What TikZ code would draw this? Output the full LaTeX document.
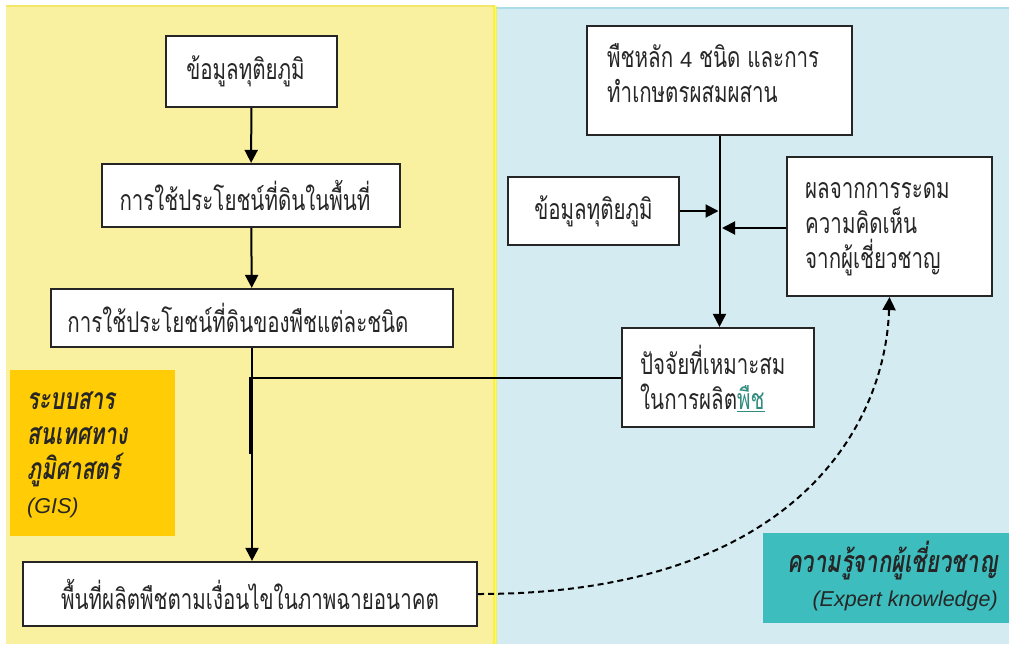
\documentclass[tikz,border=0pt]{standalone}
\usepackage{fontspec}
\usetikzlibrary{arrows.meta,calc}
\newfontfamily\thai[Script=Thai, FakeStretch=0.72]{Loma}
\newfontfamily\latin{Liberation Sans}
\definecolor{yellowbg}{HTML}{F9F0A0}
\definecolor{yellowln}{HTML}{F5E76A}
\definecolor{bluebg}{HTML}{D4ECF1}
\definecolor{blueln}{HTML}{A9DDE8}
\definecolor{gold}{HTML}{FFCC05}
\definecolor{tealbox}{HTML}{3EBDBE}
\definecolor{linkc}{HTML}{2F8C7E}
\tikzset{
  box/.style={draw=black!85, line width=2.2pt, fill=white, inner sep=0pt, minimum width=#1},
  txt/.style={font=\thai\fontsize{28.5}{35}\selectfont, text=black!85},
  arr/.style={line width=2pt, -{Triangle[length=13pt,width=13pt]}},
  ln/.style={line width=2pt},
}
\begin{document}
\begin{tikzpicture}[x=1pt,y=-1pt]
\useasboundingbox (0,0) rectangle (1009,646);
% panels
\fill[yellowbg] (6,6) rectangle (495,644);
\draw[yellowln, line width=1.5pt] (6,6) -- (495,6);
\fill[bluebg] (496,8) rectangle (1009,644);
\draw[blueln, line width=1.5pt] (496,8) -- (1009,8);
\fill[yellow, opacity=0.6] (493,6) rectangle (497,644);
% label boxes
\node[fill=gold, minimum width=165pt, minimum height=166pt, inner sep=0pt] (gis) at (92.5,453) {};
\node[anchor=north west, align=left, inner sep=0pt, text=black!85, font=\thai\bfseries\itshape\fontsize{30}{35}\selectfont] (gist) at (27,392) {ระบบสาร\\สนเทศทาง\\ภูมิศาสตร์\\[-1pt]{\latin\mdseries\itshape\fontsize{21.5}{20}\selectfont(GIS)}};
\node[fill=tealbox, minimum width=246pt, minimum height=90pt, inner sep=0pt] (exp) at (886,578) {};
\node[anchor=north east, align=right, inner sep=0pt, text=black!85, font=\thai\bfseries\itshape\fontsize{30.5}{34}\selectfont] (expt) at (998,541) {ความรู้จากผู้เชี่ยวชาญ\\{\latin\mdseries\itshape\fontsize{21.5}{20}\selectfont(Expert knowledge)}};
% left column
\node[box=171pt, minimum height=71pt, txt] (b1) at (251.5,71.5) {ข้อมูลทุติยภูมิ\hspace*{12pt}};
\node[box=298pt, minimum height=63pt, txt] (b2) at (251,195.5) {การใช้ประโยชน์ที่ดินในพื้นที่\hspace*{12pt}};
\node[box=402pt, minimum height=58pt, txt] (b3) at (252,318) {การใช้ประโยชน์ที่ดินของพืชแต่ละชนิด\hspace*{28pt}};
\node[box=454pt, minimum height=64pt, txt] (b6) at (250,594) {พื้นที่ผลิตพืชตามเงื่อนไขในภาพฉายอนาคต};
% right column
\node[box=265pt, minimum height=109pt] (r1) at (719.5,80.5) {};
\node[anchor=north west, align=left, inner sep=0pt, txt] (r1t) at (607,43) {พืชหลัก {\latin\fontsize{22}{35}\selectfont 4} ชนิด และการ\\ทำเกษตรผสมผสาน};
\node[box=171pt, minimum height=68pt, txt] (r2) at (593.5,211) {ข้อมูลทุติยภูมิ};
\node[box=205pt, minimum height=139pt] (r3) at (889.5,226.5) {};
\node[anchor=north west, align=left, inner sep=0pt, txt] (r3t) at (805,182) {ผลจากการระดม\\ความคิดเห็น\\จากผู้เชี่ยวชาญ};
\node[box=192pt, minimum height=99pt] (r5) at (718,377.5) {};
\node[anchor=north west, align=left, inner sep=0pt, txt] (r5t) at (640,345) {ปัจจัยที่เหมาะสม\\ในการผลิต{\color{linkc}\underline{พืช}}};
% connectors
\draw[arr] (b1) -- (b2);
\draw[arr] (b2) -- (b3);
\draw[arr] (b3.south) -- (b6.north -| b3.south);
\coordinate (k1) at (250,379);
\coordinate (k2) at (250,454);
\draw[ln] (r5.west) -- (r5.west -| k1) -- (k2);
\draw[line width=3pt] (k1) -- (k2);
\coordinate (rv) at (r1.south);
\draw[arr] (rv) -- (r5.north -| rv);
\draw[arr] (r2.east) -- ($(r2.east -| rv)+(-1,0)$);
\draw[arr] (r3.west |- 0,228) -- (722,228);
\draw[ln, dash pattern=on 6pt off 4pt, -{Triangle[length=13pt,width=13pt]}] (b6.east) .. controls (790,594) and (885,430) .. (r3.south);
\end{tikzpicture}
\end{document}
